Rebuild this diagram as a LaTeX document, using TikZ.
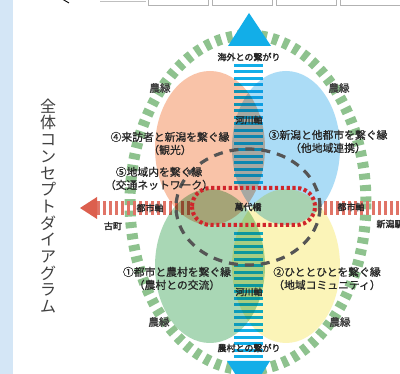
\documentclass[tikz,border=0pt]{standalone}
\usepackage{fontspec}
\setmainfont{Noto Sans CJK JP}
\newfontfamily\jpbold{Noto Sans CJK JP}[FakeBold=2.2]
\newfontfamily\jpmed{Noto Sans CJK JP}[FakeBold=0.9]
\definecolor{riverblue}{HTML}{12AEE8}
\definecolor{citystripe}{HTML}{E07467}
\definecolor{cityhead}{HTML}{DC5F4E}
\definecolor{greendash}{HTML}{8EC28E}
\definecolor{pinkblob}{HTML}{F9C3A8}
\definecolor{blueblob}{HTML}{ABDCF6}
\definecolor{greenblob}{HTML}{A9D7B5}
\definecolor{yellowblob}{HTML}{FBF4B8}
\definecolor{stadred}{HTML}{D0252B}
\definecolor{graydash}{HTML}{555555}
\definecolor{sidestrip}{HTML}{D4E6F6}
\begin{document}
\begin{tikzpicture}[x=1pt,y=-1pt,
  lbl/.style={inner sep=0pt, font=\fontsize{9}{11}\selectfont\jpbold, text=black!85},
  nl/.style={inner sep=0pt, font=\fontsize{10.5}{11}\selectfont\jpbold, text=black!75},
  mainlbl/.style={inner sep=0pt, align=center, font=\fontsize{10.8}{13}\selectfont\jpmed, text=black!85},
  titlelbl/.style={inner sep=0pt, align=center, font=\fontsize{16}{16.7}\selectfont, text=black!75},
  blob/.style={blend mode=multiply},
  topbox/.style={draw=black!30, fill=white, line width=0.8pt},
]
\useasboundingbox (0,0) rectangle (400,374);
\fill[white] (0,0) rectangle (400,374);
\fill[sidestrip] (0,0) rectangle (13,374);
% top partial boxes
\draw[topbox] (148,-5) rectangle (208,5.5);
\draw[topbox] (212,-5) rectangle (272,5.5);
\draw[topbox] (276,-5) rectangle (336,5.5);
\draw[topbox] (340,-5) rectangle (405,5.5);
\draw[black!25, line width=0.8pt] (100,1) -- (146,1);
\draw[black, line width=0.9pt] (63,-0.5) -- (69,3);
% green dashed ring
\draw[greendash, line width=11pt, dash pattern=on 6pt off 5.5pt] (248,202.5) ellipse [x radius=118pt, y radius=167.5pt];
% river axis stripes
\foreach \yy in {64,70.5,...,184} \fill[riverblue] (234,\yy) rectangle (263,\yy+3);
\foreach \yy in {232,238.5,...,356} \fill[riverblue] (234,\yy) rectangle (263,\yy+3);
% city axis stripes
\foreach \xx in {97,103,...,190} \fill[citystripe] (\xx,201) rectangle (\xx+3,215);
\foreach \xx in {318,324,...,400} \fill[citystripe] (\xx,201) rectangle (\xx+3,215);
% blobs
\fill[pinkblob, blob] (210,148) ellipse [x radius=55pt, y radius=77pt];
\fill[blueblob, blob] (286,148) ellipse [x radius=54pt, y radius=77pt];
\fill[greenblob, blob] (210,266) ellipse [x radius=55pt, y radius=77pt];
\fill[yellowblob, blob] (286,266) ellipse [x radius=54pt, y radius=77pt];
% lighten stripes seen through blobs
\foreach \yy in {64,70.5,...,184} \fill[riverblue, fill opacity=0.35] (234,\yy) rectangle (263,\yy+3);
\foreach \yy in {232,238.5,...,356} \fill[riverblue, fill opacity=0.35] (234,\yy) rectangle (263,\yy+3);
% gray dashed ring
\draw[graydash, line width=3.2pt, dash pattern=on 9pt off 7pt] (248,207) ellipse [x radius=72pt, y radius=58pt];
% red stadium
\draw[stadred, line width=4pt, dash pattern=on 3.2pt off 2.6pt, rounded corners=18.5pt] (192,188) rectangle (315,225);
% arrowheads
\fill[riverblue] (249,13) -- (271,46) -- (228,46) -- cycle;
\fill[riverblue] (227,361) -- (270,361) -- (248.5,395) -- cycle;
\fill[cityhead] (80,208) -- (97,197) -- (97,219) -- cycle;
% labels
\node[titlelbl] (ttl) at (48,206) {全\\体\\コ\\ン\\セ\\プ\\ト\\ダ\\イ\\ア\\グ\\ラ\\ム};
\node[lbl] (kaigai) at (249,57) {海外との繋がり};
\node[lbl] (noson) at (249,348) {農村との繋がり};
\node[lbl] (kasen1) at (249,120) {河川軸};
\node[lbl] (kasen2) at (249,292) {河川軸};
\node[lbl] (toshi1) at (150,208) {都市軸};
\node[lbl] (toshi2) at (351,207) {都市軸};
\node[lbl] (bandai) at (248,207) {萬代橋};
\node[lbl] (furu) at (113,226) {古町};
\node[lbl] (eki) at (390,224) {新潟駅};
\node[nl] (n1) at (160,88) {農緑};
\node[nl] (n2) at (339,88) {農緑};
\node[nl] (n3) at (159,322) {農緑};
\node[nl] (n4) at (340,322) {農緑};
\node[mainlbl] (t4) at (170,143.5) {④来訪者と新潟を繋ぐ縁\\（観光）};
\node[mainlbl] (t3) at (328,141.5) {③新潟と他都市を繋ぐ縁\\（他地域連携）};
\node[mainlbl] (t5) at (159,178.5) {⑤地域内を繋ぐ縁\\（交通ネットワーク）};
\node[mainlbl] (t1) at (177,278.5) {①都市と農村を繋ぐ縁\\（農村との交流）};
\node[mainlbl] (t2) at (327,278.5) {②ひととひとを繋ぐ縁\\（地域コミュニティ）};
\end{tikzpicture}
\end{document}
